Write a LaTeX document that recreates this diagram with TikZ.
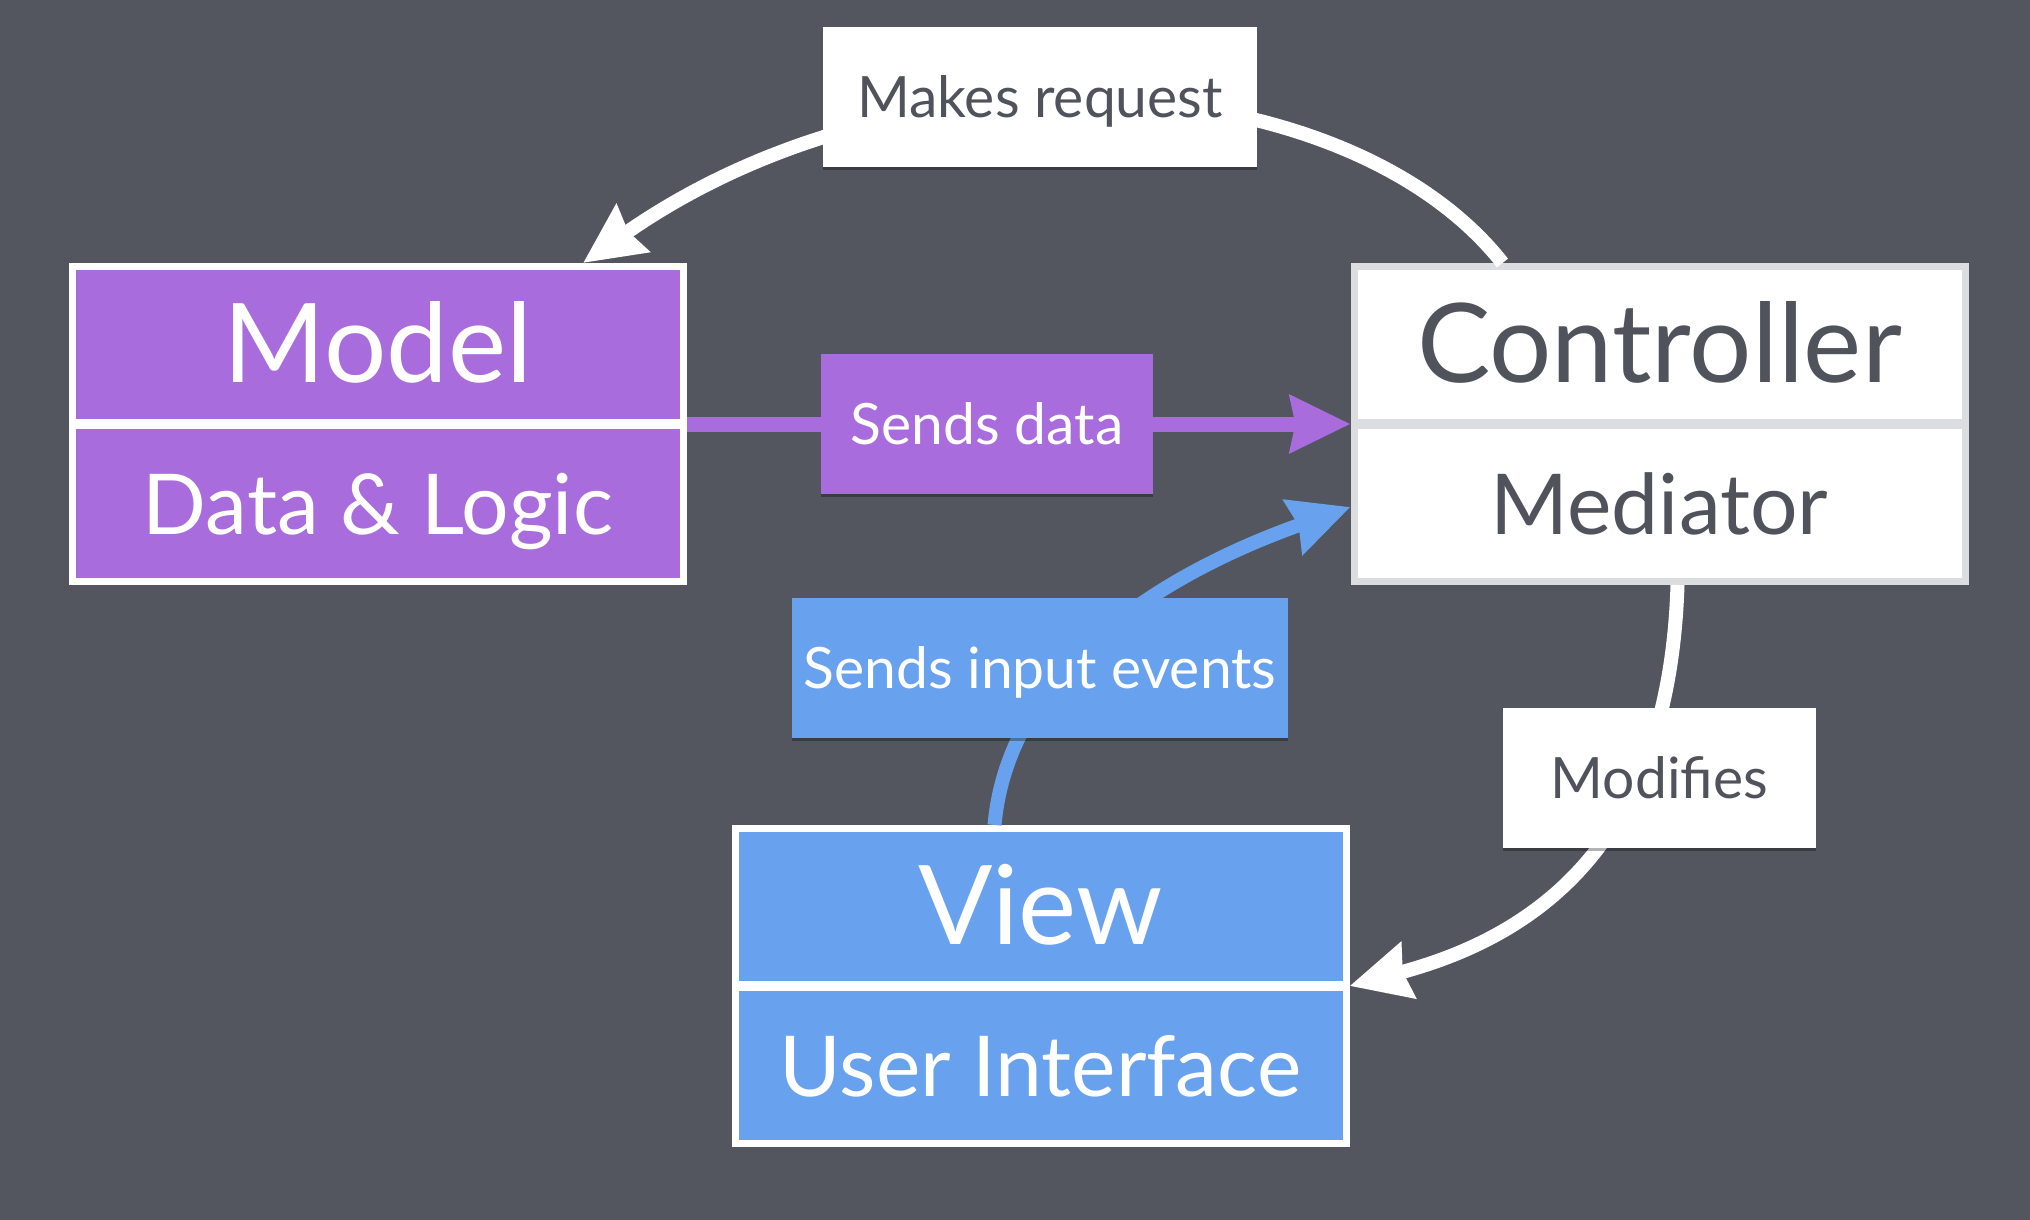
\documentclass[tikz,border=0pt]{standalone}
\usepackage{fontspec}
\setmainfont{Lato}
\usetikzlibrary{arrows.meta,calc,shadows}
\definecolor{bg}{RGB}{83,86,95}
\definecolor{mvpurple}{RGB}{169,108,220}
\definecolor{mvblue}{RGB}{104,162,238}
\definecolor{txtgray}{RGB}{80,83,91}
\definecolor{ctrlborder}{RGB}{220,221,225}
\begin{document}
\begin{tikzpicture}[x=1pt,y=-1pt,
  box/.style={rectangle, minimum width=611pt, minimum height=315pt, line width=7pt, inner sep=0pt},
  titletext/.style={inner sep=0pt, font=\fontsize{110}{124}\selectfont, text height=78pt, text depth=0pt},
  subtext/.style={inner sep=0pt, font=\fontsize{84}{100}\selectfont, text height=60pt, text depth=0pt},
  lbl/.style={inner sep=0pt, minimum height=140pt, text height=41pt, text depth=0pt,
    font=\fontsize{57}{68}\selectfont,
    drop shadow={shadow xshift=0pt, shadow yshift=-3pt, opacity=0.3, fill=black}},
  conn/.style={line width=14pt},
  arrowtip/.style={-{Stealth[length=60pt,width=56pt,inset=5pt]}},
]
\fill[bg] (0,0) rectangle (2030,1220);

% main boxes
\node[box, draw=white, fill=mvpurple] (Model) at (378,424) {};
\node[box, draw=ctrlborder, fill=white] (Controller) at (1659.5,424) {};
\node[box, draw=white, fill=mvblue] (View) at (1040.5,986) {};
\draw[white, line width=10pt] (Model.west) -- (Model.east);
\draw[ctrlborder, line width=10pt] (Controller.west) -- (Controller.east);
\draw[white, line width=10pt] (View.west) -- (View.east);

\node[titletext, text=white] (ModelTitle) at ($(Model.north)!0.25!(Model.south)$) {Model};
\node[subtext, text=white] (ModelSub) at ($(Model.north)!0.75!(Model.south)$) {Data \& Logic};
\node[titletext, text=txtgray] (CtrlTitle) at ($(Controller.north)!0.25!(Controller.south)$) {Controller};
\node[subtext, text=txtgray] (CtrlSub) at ($(Controller.north)!0.75!(Controller.south)$) {Mediator};
\node[titletext, text=white] (ViewTitle) at ($(View.north)!0.25!(View.south)$) {View};
\node[subtext, text=white] (ViewSub) at ($(View.north)!0.75!(View.south)$) {User Interface};

% connectors
\draw[conn, white, arrowtip] ([xshift=-157pt]Controller.north) .. controls (1347,66) and (911,34) .. ([xshift=205pt]Model.north);
\draw[mvpurple, line width=15pt, arrowtip] (Model.east) -- (Controller.west);
\draw[conn, mvblue, arrowtip] ([xshift=-46pt]View.north) .. controls (1010,650) and (1200,560) .. ([yshift=-83pt]Controller.west);
\draw[conn, white, arrowtip] ([xshift=18pt]Controller.south) .. controls (1670,820) and (1560,930) .. (View.east);

% labels
\node[lbl, fill=white, text=txtgray, minimum width=434pt] (MakesReq) at (1040,97) {Makes request};
\node[lbl, fill=mvpurple, text=white, minimum width=332pt] (SendsData) at (987,424) {Sends data};
\node[lbl, fill=mvblue, text=white, minimum width=496pt] (SendsInput) at (1040,667.5) {Sends input events};
\node[lbl, fill=white, text=txtgray, minimum width=313pt] (Modifies) at (1659.5,778) {Modifies};
\end{tikzpicture}
\end{document}
